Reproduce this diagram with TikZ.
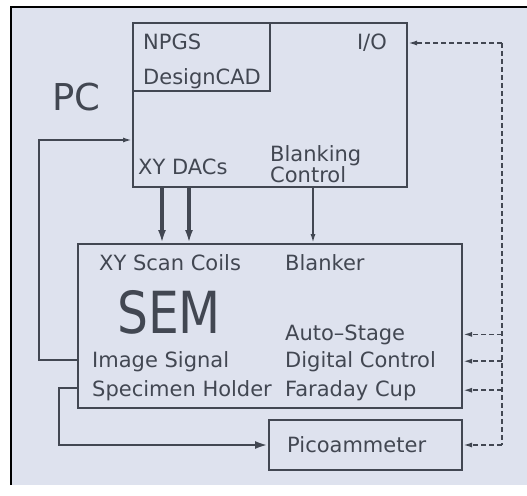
\documentclass[tikz,border=0pt]{standalone}
\usepackage{fontspec}
\setmainfont{DejaVu Sans}
\usetikzlibrary{arrows.meta,positioning}

\definecolor{panel}{RGB}{222,226,238}
\definecolor{ink}{RGB}{66,71,82}

\tikzset{
    box/.style={draw=ink, line width=2pt, inner sep=0pt},
    lbl/.style={text=ink, font=\fontsize{21}{23}\selectfont, anchor=base west, inner sep=0pt},
    sig/.style={draw=ink, line width=1.7pt, -{Latex[length=9pt,width=5pt]}},
    bus/.style={draw=ink, line width=3.4pt, -{Latex[length=13pt,width=8pt]}},
    ctl/.style={draw=ink, line width=1.7pt, dash pattern=on 5pt off 3pt},
}

\begin{document}
\begin{tikzpicture}[x=1pt, y=-1pt]
        % ================= frame =================
        \useasboundingbox (0,0) rectangle (527,495);
        \fill[white] (0,0) rectangle (527,495);
        \fill[panel] (11,7) rectangle (527,485);
        \draw[black, line width=2.5pt] (11,485) -- (11,7) -- (527,7);

        % 1. PC box
        \node[box, minimum width=274pt, minimum height=164pt] (pc) at (270,105) {};
        \node[box, minimum width=137pt, minimum height=68pt, anchor=north west] (soft) at (pc.north west) {};
        \node[text=ink, font=\fontsize{37}{40}\selectfont, anchor=base west, inner sep=0pt] (pclbl) at (52,110) {PC};
        \node[lbl] (npgs) at (143,50) {NPGS};
        \node[lbl] (dcad) at (143,84) {DesignCAD};
        \node[lbl, anchor=base east] (io) at (387,50) {I/O};
        \node[lbl] (dacs) at (138,174) {XY DACs};
        \node[lbl] (blank) at (270,161) {Blanking};
        \node[lbl] (ctrl) at (270,182) {Control};

        % 2. SEM box
        \node[box, minimum width=384pt, minimum height=164pt] (sem) at (270,326) {};
        \node[text=ink, font=\fontsize{58}{60}\selectfont, anchor=base west, inner sep=0pt] (semlbl) at (117,333) {\scalebox{0.84}[1]{SEM}};
        \node[lbl] (coils) at (99,270) {XY Scan Coils};
        \node[lbl] (blanker) at (285,270) {Blanker};
        \node[lbl] (stage) at (285,340) {Auto--Stage};
        \node[lbl] (img) at (92,367) {Image Signal};
        \node[lbl] (digi) at (285,367) {Digital Control};
        \node[lbl] (spec) at (92,396) {Specimen Holder};
        \node[lbl] (cup) at (285,396) {Faraday Cup};

        % 3. Picoammeter box
        \node[box, minimum width=193pt, minimum height=50pt] (pico) at (365.5,445) {};
        \node[lbl] (picolbl) at (287,452) {Picoammeter};

        % 4. PC -> SEM
        \coordinate (xa) at (162,0);
        \coordinate (xb) at (189,0);
        \coordinate (xc) at (313,0);
        \draw[bus] (pc.south -| xa) -- (sem.north -| xa);
        \draw[bus] (pc.south -| xb) -- (sem.north -| xb);
        \draw[sig] (pc.south -| xc) -- (sem.north -| xc);

        % 5. image signal back to PC
        \coordinate (imgline) at (39,360);
        \coordinate (pcin) at (39,140);
        \draw[sig] (sem.west |- imgline) -- (imgline) -- (pcin) -- (pc.west |- pcin);

        % 6. specimen holder -> picoammeter
        \coordinate (spcline) at (59,388);
        \draw[bus, line width=2.8pt] (sem.west |- spcline) -- (spcline) |- (pico.west);

        % 7. I/O control lines (dashed)
        \coordinate (ioline) at (502,43);
        \draw[ctl] (ioline) -- (ioline |- pico.east);
        \draw[ctl, -{Latex[length=9pt,width=5pt]}] (ioline) -- (pc.east |- ioline);
        \foreach \t in {stage, digi, cup} {
            \draw[ctl, -{Latex[length=9pt,width=5pt]}] (ioline |- \t) -- (sem.east |- \t);
        }
        \draw[ctl, -{Latex[length=9pt,width=5pt]}] (ioline |- pico.east) -- (pico.east);

    \end{tikzpicture}
\end{document}
